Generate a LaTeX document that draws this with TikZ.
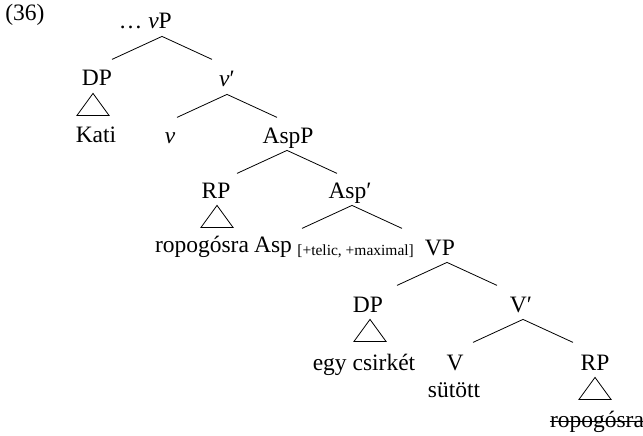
\documentclass[tikz,border=0pt]{standalone}
\usepackage{fontspec}
\setmainfont{Liberation Serif}
\usetikzlibrary{calc,positioning}

\begin{document}
\begin{tikzpicture}[x=1pt, y=-1pt, line width=0.8pt,
  every node/.style={font=\fontsize{23.5}{28}\selectfont, inner sep=0pt, anchor=base},
  cat/.style={text height=16pt, text depth=5pt},
  feat/.style={font=\fontsize{15.5}{18}\selectfont}]
  \useasboundingbox (0,0) rectangle (643,436);

  \node[anchor=base west] (num) at (5,21) {(36)};

  % top of the tree
  \node[cat] (vP) at (160,29) {\textit{v}P};
  \node[anchor=base east] (dots) at ([xshift=-5pt]vP.base west) {\dots};
  \node[cat] (DPa) at (97,86) {DP};
  \node[cat] (vbar) at (227,87) {\textit{v}′};
  \node[cat] (Kati) at (96,142) {Kati};
  \node[cat] (vhead) at (170,143) {\textit{v}};
  \node[cat] (AspP) at (288,143) {AspP};
  \node[cat] (RPa) at (216,198) {RP};
  \node[cat] (Aspbar) at (350,198) {Asp′};
  \node[cat] (ropoa) at (202,252) {ropogósra};
  \node[cat] (Asp) at (273,252) {Asp};
  \node[feat, anchor=base west] (feat) at (297,255) {[+telic, +maximal]};

  % lower VP
  \node[cat] (VP) at (440,255) {VP};
  \node[cat] (DPb) at (368,312) {DP};
  \node[cat] (Vbar) at (521,312) {V′};
  \node[cat] (csirke) at (364,370) {egy csirkét};
  \node[cat] (V) at (455,370) {V};
  \node[cat] (RPb) at (595,370) {RP};
  \node[cat] (sutott) at (454,397) {sütött};
  \node[cat] (ropob) at (597,427) {ropogósra};
  \draw ([yshift=6pt]ropob.base west) -- ([yshift=6pt]ropob.base east);

  % branches
  \foreach \p/\s in {vP/2,vbar/0,AspP/-1,Aspbar/2,VP/7,Vbar/2} {
    \coordinate (\p-top) at ($(\p.south)+(\s,2)$);
    \coordinate (\p-l) at ($(\p-top)+(-50,23)$);
    \coordinate (\p-r) at ($(\p-top)+(50,23)$);
    \draw (\p-l) -- (\p-top) -- (\p-r);
  }

  % roofs
  \foreach \n/\s in {DPa/-4,RPa/1,DPb/2,RPb/0}
    \draw ($(\n.south)+(\s,2)$) -- ++(-16,22) -- ++(32,0) -- cycle;
\end{tikzpicture}
\end{document}
